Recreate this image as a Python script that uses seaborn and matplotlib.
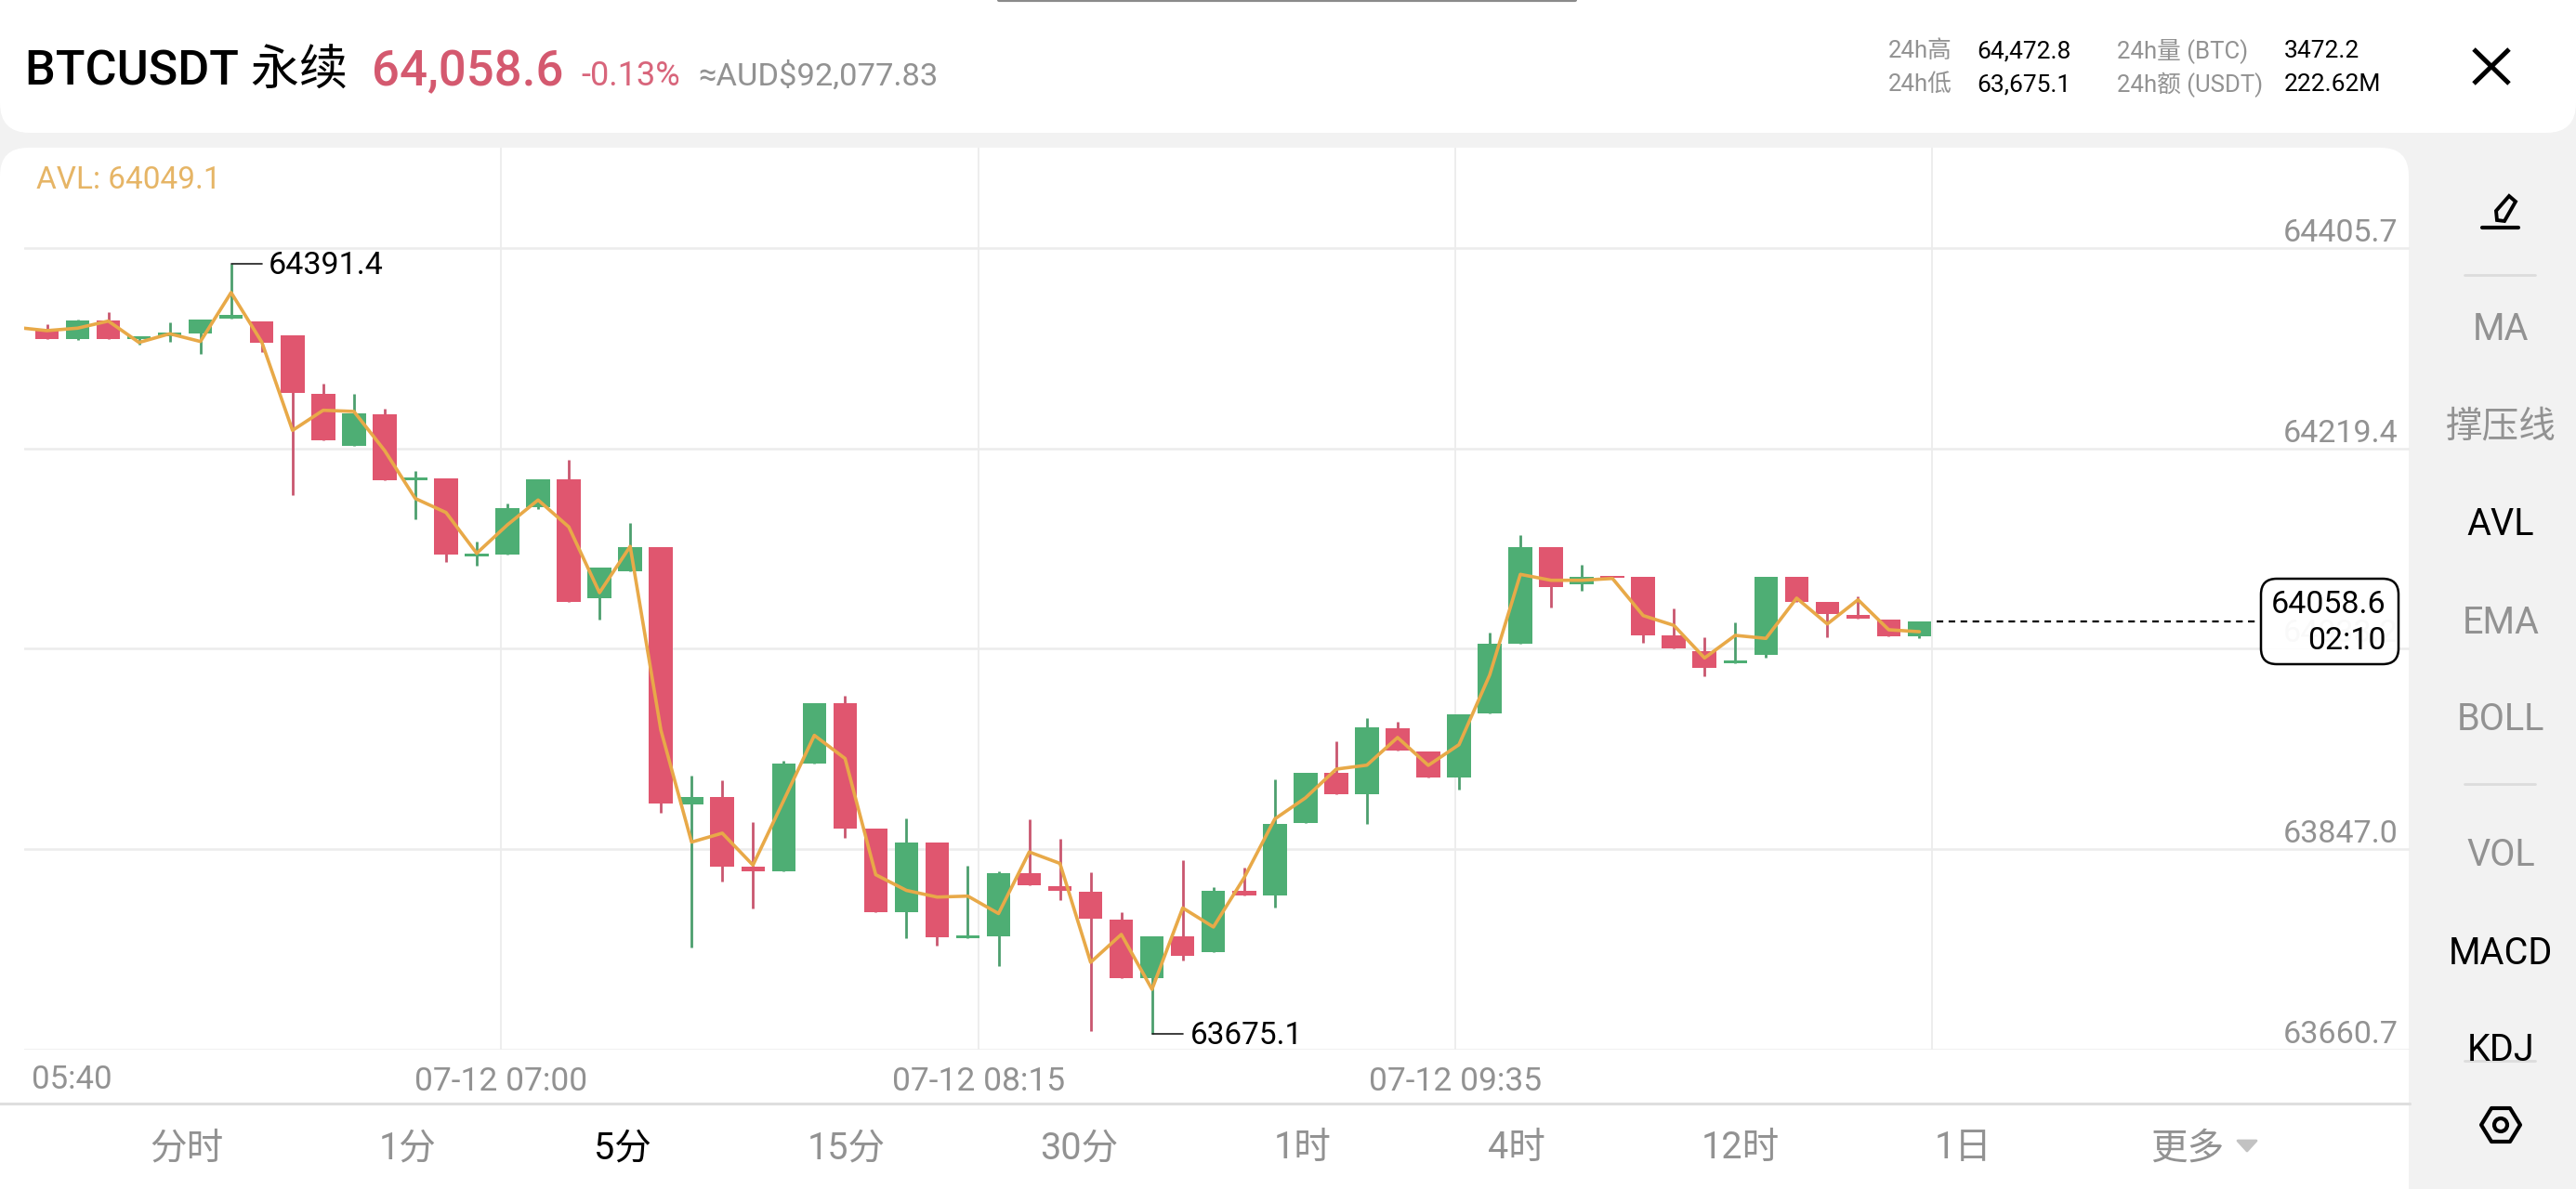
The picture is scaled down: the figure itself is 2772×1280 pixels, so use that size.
import numpy as np
import pandas as pd
import matplotlib
matplotlib.use("Agg")
import matplotlib.pyplot as plt
from matplotlib.patches import FancyBboxPatch, Polygon, Circle, Rectangle
import seaborn as sns

# 5-minute BTCUSDT perpetual candles
opens = [64329.7, 64330.6, 64320.8, 64338.6, 64321.4, 64323.9, 64326.5, 64340.4, 64337.5, 64324.3, 64270.4,
         64222.1, 64251.4, 64190.1, 64191.9, 64119.4, 64121.1, 64164.8, 64190.5, 64080.5, 64105.3, 64127.8,
         63889.0, 63895.9, 63830.9, 63826.5, 63926.6, 63983.1, 63866.2, 63788.6, 63853.6, 63764.4, 63766.0,
         63824.6, 63813.0, 63807.7, 63781.9, 63727.1, 63766.4, 63751.2, 63808.3, 63804.3, 63871.3, 63918.0,
         63898.1, 63959.7, 63938.1, 63913.9, 63973.2, 64037.7, 64128.0, 64092.9, 64101.2, 64099.9, 64045.5,
         64030.8, 64020.1, 64027.3, 64099.9, 64076.8, 64065.0, 64060.7, 64045.1]
highs = [64332.3, 64334.7, 64339.2, 64346.1, 64323.7, 64336.4, 64339.5, 64391.4, 64337.5, 64324.3, 64279.9,
         64269.9, 64256.4, 64198.8, 64191.9, 64132.6, 64168.3, 64190.5, 64208.9, 64109.0, 64149.9, 64127.8,
         63915.7, 63911.1, 63871.8, 63928.9, 63983.1, 63989.7, 63866.2, 63875.4, 63853.6, 63831.2, 63826.5,
         63875.1, 63856.6, 63825.9, 63788.6, 63766.4, 63836.5, 63811.7, 63830.2, 63911.9, 63918.0, 63947.1,
         63969.2, 63965.2, 63938.1, 63972.1, 64048.0, 64139.0, 64128.0, 64111.3, 64101.2, 64099.9, 64070.8,
         64044.0, 64057.8, 64099.9, 64099.9, 64076.8, 64081.7, 64060.7, 64058.6]
lows = [64329.7, 64320.8, 64320.2, 64321.4, 64316.2, 64318.5, 64307.0, 64340.4, 64309.3, 64176.3, 64227.0,
        64222.1, 64190.1, 64153.4, 64114.2, 64110.2, 64121.1, 64163.4, 64076.8, 64060.1, 64105.3, 63880.4,
        63755.8, 63817.3, 63792.2, 63826.5, 63926.6, 63857.6, 63788.6, 63764.4, 63757.8, 63764.4, 63738.7,
        63813.3, 63800.1, 63677.9, 63727.1, 63675.1, 63743.9, 63751.2, 63804.1, 63793.0, 63871.3, 63898.1,
        63870.2, 63938.9, 63913.6, 63902.7, 63973.2, 64037.7, 64071.9, 64087.2, 64099.0, 64038.8, 64033.6,
        64008.0, 64020.1, 64024.7, 64077.1, 64044.3, 64061.3, 64045.1, 64043.4]
closes = [64332.3, 64320.8, 64338.6, 64321.4, 64323.7, 64326.9, 64339.5, 64343.5, 64317.9, 64271.3, 64227.0,
          64251.8, 64190.1, 64192.2, 64120.6, 64121.7, 64164.2, 64190.5, 64076.8, 64109.0, 64128.0, 63889.3,
          63895.9, 63830.9, 63826.5, 63926.6, 63983.1, 63866.2, 63788.6, 63853.0, 63765.4, 63767.1, 63824.6,
          63813.3, 63808.3, 63782.3, 63727.1, 63766.4, 63747.9, 63808.3, 63804.1, 63870.7, 63918.0, 63898.1,
          63960.0, 63938.9, 63913.6, 63972.1, 64037.7, 64127.7, 64090.4, 64099.9, 64099.0, 64045.5, 64033.6,
          64015.8, 64022.7, 64099.9, 64077.1, 64065.6, 64061.3, 64045.1, 64058.6]
avl = [64331.9, 64328.9, 64331.2, 64337.8, 64317.9, 64326.0, 64318.8, 64364.3, 64318.2, 64236.2, 64254.9,
       64253.8, 64217.5, 64172.9, 64159.9, 64122.0, 64148.4, 64171.5, 64146.5, 64085.4, 64128.4, 63957.7,
       63853.6, 63861.9, 63832.2, 63892.2, 63952.8, 63931.3, 63823.3, 63808.7, 63802.5, 63803.4, 63787.2,
       63844.4, 63833.8, 63741.9, 63767.8, 63716.8, 63792.4, 63774.7, 63820.4, 63875.1, 63894.7, 63921.4,
       63925.1, 63950.8, 63924.9, 63944.1, 64008.9, 64102.4, 64096.9, 64096.9, 64098.6, 64064.1, 64055.0,
       64024.7, 64045.7, 64042.9, 64080.3, 64056.3, 64078.8, 64050.9, 64049.1]

price_ticks = [64405.7, 64219.4, 64033.2, 63847.0, 63660.7]
time_labels = ["07-12 07:00", "07-12 08:15", "07-12 09:35", ""]
first_time = "05:40"
high_label = "64391.4"
low_label = "63675.1"
last_price = "64058.6"
countdown = "02:10"
period_tabs = ["分时", "1分", "5分", "15分", "30分", "1时", "4时", "12时", "1日", "更多"]
side_tools = ["MA", "撑压线", "AVL", "EMA", "BOLL", "VOL", "MACD", "KDJ"]

GREEN, RED = "#4eae74", "#e0566f"
GREEN_WICK, RED_WICK = "#4c9f6e", "#c9566f"
GOLD = "#e8a948"
GRID = "#ececec"
GREY = "#929292"
PANEL = "#f2f2f2"

sns.set_theme(style="white")
plt.rcParams["font.family"] = ["Roboto", "Noto Sans CJK SC", "DejaVu Sans"]

W, H = 2772, 1280
fig = plt.figure(figsize=(W / 100, H / 100), dpi=100, facecolor=PANEL)

# App chrome lives on a pixel-addressed layer beneath the chart
bg = fig.add_axes([0, 0, 1, 1], zorder=0)
bg.set_xlim(0, W)
bg.set_ylim(H, 0)
bg.axis("off")


def card(ax, x0, y0, x1, y1, r, **kw):
    ax.add_patch(FancyBboxPatch((x0 + r, y0 + r), x1 - x0 - 2 * r, y1 - y0 - 2 * r,
                                boxstyle=f"round,pad={r},rounding_size={r}", **kw))


card(bg, 0, -80, W, 143, 32, fc="white", ec="none")
card(bg, 0, 159, 2592, 1400, 30, fc="white", ec="none")
bg.plot([1075, 1695], [0, 0], color="#8a8a8a", lw=3, solid_capstyle="round", clip_on=True)
bg.plot([0, 2593], [1187.5, 1187.5], color="#dedede", lw=2.2)

bg.text(27, 92, "BTCUSDT 永续", fontsize=37.5, color="black", va="baseline", fontweight="medium")
bg.text(400, 92, "64,058.6", fontsize=38, color="#d4596f", fontweight="medium", va="baseline")
bg.text(625, 92, "-0.13%", fontsize=26, color="#d8657b", va="baseline")
bg.text(751, 92, "≈AUD$92,077.83", fontsize=24.8, color=GREY, va="baseline",
        family=["Roboto", "DejaVu Sans"])

for label, x in [("24h高", 2032), ("24h量 (BTC)", 2278)]:
    bg.text(x, 55, label, fontsize=18.5, color=GREY, va="center")
for label, x in [("24h低", 2032), ("24h额 (USDT)", 2278)]:
    bg.text(x, 91, label, fontsize=18.5, color=GREY, va="center")
for label, x in [("64,472.8", 2127), ("3472.2", 2458)]:
    bg.text(x, 55, label, fontsize=19, color="black", va="center")
for label, x in [("63,675.1", 2127), ("222.62M", 2458)]:
    bg.text(x, 91, label, fontsize=19, color="black", va="center")

# close button
bg.plot([2662, 2700], [53, 90], color="black", lw=3.6, solid_capstyle="butt")
bg.plot([2662, 2700], [90, 53], color="black", lw=3.6, solid_capstyle="butt")

# pencil icon
bg.add_patch(Polygon([(2700, 211), (2707, 217), (2695, 238), (2687, 237), (2686, 227)],
                     closed=True, fc="none", ec="black", lw=2.8))
bg.plot([2671, 2710], [245, 245], color="black", lw=3)

# side toolbar
side_y = [355, 459, 565, 670, 774, 921, 1027, 1130]
side_col = [GREY, GREY, "black", GREY, GREY, GREY, "black", "black"]
for label, y, col in zip(side_tools, side_y, side_col):
    t = bg.text(2691, y, label, fontsize=28.5, color=col, ha="center", va="center")
    if label == "KDJ":
        t.set_clip_path(Rectangle((2600, 1090), 170, 52, transform=bg.transData))
for y in (296, 844, 1142):
    bg.plot([2652, 2728], [y, y], color="#dcdcdc", lw=2)

# settings icon
bg.add_patch(Polygon([(2670, 1211), (2681, 1193), (2701, 1193), (2712, 1211), (2701, 1229), (2681, 1229)],
                     closed=True, fc="none", ec="black", lw=3, joinstyle="round"))
bg.add_patch(Circle((2691, 1211), 7, fc="none", ec="black", lw=3))

# period selector along the bottom
tab_x = [201, 439, 670, 911, 1161, 1402, 1632, 1873, 2113, 2354]
for label, x in zip(period_tabs, tab_x):
    bg.text(x, 1236, label, fontsize=28.5, color="black" if label == "5分" else GREY,
            ha="center", va="center")
bg.add_patch(Polygon([(2408, 1228), (2428, 1228), (2418, 1239)], closed=True,
                     fc="#c2c2c2", ec="#c2c2c2", lw=2, joinstyle="round"))

# Price chart
PX_LEFT, PX_RIGHT, PX_TOP, PX_BOTTOM = 26, 2593, 159, 1130
ax = fig.add_axes([PX_LEFT / W, 1 - PX_BOTTOM / H, (PX_RIGHT - PX_LEFT) / W, (PX_BOTTOM - PX_TOP) / H],
                  zorder=1)
ax.patch.set_alpha(0)
for s in ax.spines.values():
    s.set_visible(False)

df = pd.DataFrame({"i": np.arange(-1, len(opens) - 1), "open": opens, "high": highs,
                   "low": lows, "close": closes, "avl": avl})
df["up"] = df["close"] >= df["open"]
df["top"] = df[["open", "close"]].max(axis=1)
df["bottom"] = df[["open", "close"]].min(axis=1)

ax.set_xlim(-0.742, 76.97)
ax.set_ylim(price_ticks[-1], 64498.9)

ax.set_axisbelow(True)
ax.yaxis.tick_right()
ax.set_yticks(price_ticks, [f"{v:.1f}" for v in price_ticks])
ax.tick_params(axis="y", length=0, direction="in", pad=-9.0, labelsize=24.5, labelcolor=GREY)
for lab in ax.get_yticklabels():
    lab.set_ha("right")
    lab.set_va("bottom")
ax.set_xticks([14.79, 30.35, 45.88, 61.41], time_labels)
ax.tick_params(axis="x", length=0, pad=13, labelsize=25.5, labelcolor=GREY)
ax.grid(axis="y", color=GRID, lw=1.8)
ax.grid(axis="x", color=GRID, lw=1.3)
ax.text(0.80, -0.0335, first_time, transform=ax.get_xaxis_transform(), fontsize=25,
        color=GREY, ha="center", va="center")

for up, wick, body in [(True, GREEN_WICK, GREEN), (False, RED_WICK, RED)]:
    part = df[df["up"] == up]
    ax.vlines(part["i"], part["low"], part["high"], color=wick, lw=2.0, zorder=2)
    ax.bar(part["i"], part["top"] - part["bottom"], bottom=part["bottom"], width=0.772,
           color=body, edgecolor="none", zorder=3)

sns.lineplot(data=df, x="i", y="avl", color=GOLD, lw=2.6, ax=ax, zorder=4, estimator=None,
             legend=False)
ax.set_xlabel("")
ax.set_ylabel("")

ax.text(0.0050, 0.9640, f"AVL: {avl[-1]:.1f}", transform=ax.transAxes, fontsize=24,
        color="#e6b566", va="center")

# highest and lowest price markers
hi_i = df.loc[df["high"].idxmax()]
lo_i = df.loc[df["low"].idxmin()]
ax.plot([hi_i["i"], hi_i["i"] + 1], [hi_i["high"]] * 2, color="#1c1c1c", lw=1.2, zorder=5)
ax.annotate(high_label, (hi_i["i"] + 1.22, hi_i["high"]), xytext=(0, -1.5), textcoords="offset points",
            fontsize=24.5, color="black", va="center")
ax.plot([lo_i["i"], lo_i["i"] + 1], [lo_i["low"]] * 2, color="#1c1c1c", lw=1.2, zorder=5)
ax.annotate(low_label, (lo_i["i"] + 1.25, lo_i["low"]), xytext=(0, -1.5), textcoords="offset points",
            fontsize=24, color="black", va="center")

# last-price guide running to the tag
ax.plot([61.55, 72.15], [closes[-1]] * 2, color="black", lw=1.6, dashes=(3.2, 2.6), zorder=5)

# Last-price tag floats above the axis labels
top = fig.add_axes([0, 0, 1, 1], zorder=2)
top.set_xlim(0, W)
top.set_ylim(H, 0)
top.axis("off")
top.patch.set_alpha(0)
top.add_patch(FancyBboxPatch((2433 + 17, 623 + 17), 148 - 34, 92 - 34,
                             boxstyle="round,pad=17,rounding_size=17",
                             fc=(1, 1, 1, 0.95), ec="black", lw=1.8))
top.text(2568, 651, last_price, fontsize=24.5, color="black", ha="right", va="center")
top.text(2568, 690, countdown, fontsize=24.5, color="black", ha="right", va="center")

fig.savefig("out.png", dpi=100, facecolor=PANEL)
